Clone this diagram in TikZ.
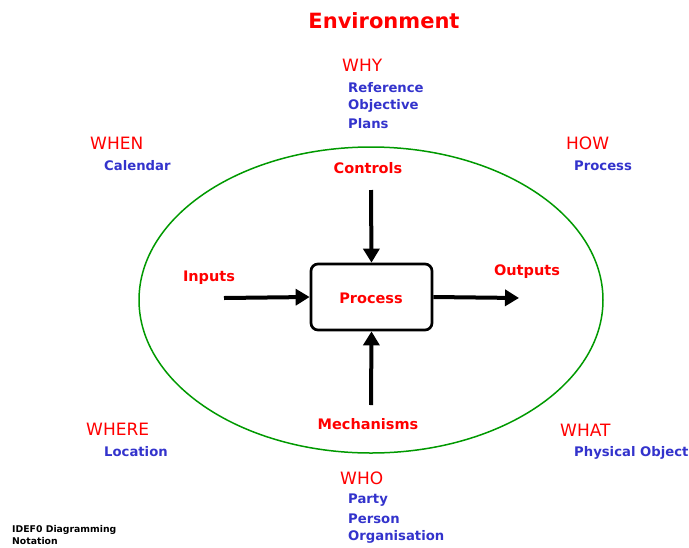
\documentclass[tikz,border=0pt]{standalone}
\usepackage{fontspec}
\setmainfont{DejaVu Sans}
\usetikzlibrary{arrows.meta}
\definecolor{envred}{RGB}{255,0,0}
\definecolor{lblue}{RGB}{51,51,204}
\definecolor{egreen}{RGB}{0,153,0}
\tikzset{
  head/.style={text=envred, font=\fontsize{17}{19}\selectfont, anchor=west, inner sep=0pt},
  item/.style={text=lblue, font=\bfseries\fontsize{13.2}{15}\selectfont, anchor=west, inner sep=0pt},
  flow/.style={text=envred, font=\bfseries\fontsize{14.5}{16}\selectfont, inner sep=0pt},
  arr/.style={line width=4pt, -{Triangle[length=14pt,width=16pt]}},
  procbox/.style={draw, line width=2.7pt, rounded corners=7pt, minimum width=121pt, minimum height=66pt}
}
\begin{document}
\begin{tikzpicture}[x=1pt,y=-1pt]
\useasboundingbox (0,0) rectangle (689,547);
\node[text=envred, font=\bfseries\fontsize{21}{25}\selectfont, inner sep=0pt] (env) at (384,21) {Environment};
\draw[egreen, line width=1.5pt] (371,300) ellipse [x radius=232, y radius=153];
\node[procbox] (proc) at (371.5,297) {};
\node[flow] (proct) at (371,298) {Process};
% WHY
\node[head] (why) at (342,65) {WHY};
\node[item] (ref) at (348,88) {Reference};
\node[item] (obj) at (348,106) {Objective};
\node[item] (plan) at (348,124) {Plans};
% WHEN
\node[head] (when) at (90,143) {WHEN};
\node[item] (cal) at (104,166) {Calendar};
% HOW
\node[head] (how) at (566,143) {HOW};
\node[item] (hproc) at (574,166) {Process};
% WHERE
\node[head] (where) at (86,429) {WHERE};
\node[item] (loc) at (104,452) {Location};
% WHAT
\node[head] (what) at (560,430) {WHAT};
\node[item] (phys) at (574,453) {Physical Object};
% WHO
\node[head] (who) at (340,478) {WHO};
\node[item] (party) at (348,500) {Party};
\node[item] (pers) at (348,519) {Person};
\node[item] (org) at (348,537) {Organisation};
% flows
\node[flow] (ctrl) at (368,168) {Controls};
\node[flow] (inp) at (209,278) {Inputs};
\node[flow] (outp) at (527,272) {Outputs};
\node[flow] (mech) at (368,424) {Mechanisms};
\coordinate (ctrlS) at (371,190);
\coordinate (inS) at (224,298);
\coordinate (outE) at (519,298);
\coordinate (mechS) at (371,405);
\draw[arr] (ctrlS) -- (proc.north);
\draw[arr] (inS) -- (proc.west);
\draw[arr] (proc.east) -- (outE);
\draw[arr] (mechS) -- (proc.south);
% note
\node[anchor=west, inner sep=0pt, font=\bfseries\fontsize{9.3}{12.5}\selectfont, align=left] (note) at (12,535) {IDEF0 Diagramming\\Notation};
\end{tikzpicture}
\end{document}
